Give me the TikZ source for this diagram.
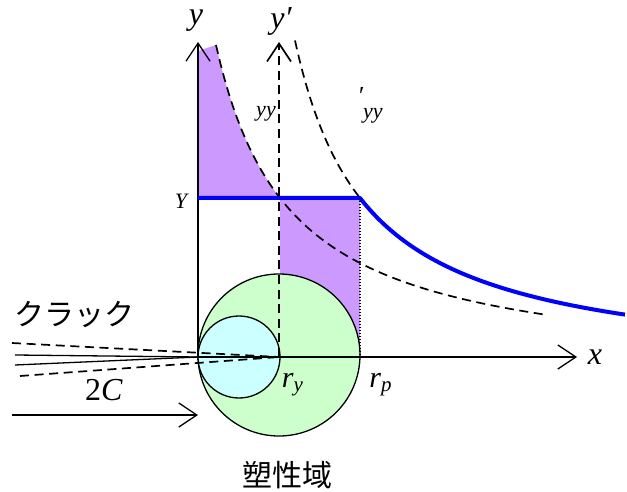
\documentclass[tikz,border=0pt]{standalone}
\usepackage{fontspec}
\setmainfont{Liberation Serif}
\newfontfamily\jpfont{Noto Sans CJK JP}
\usetikzlibrary{arrows.meta}

\begin{document}
\begin{tikzpicture}[x=0.5pt, y=-0.5pt, line width=0.65pt,
  axis/.style={-{Straight Barb[length=9pt, width=12pt]}},
  dsh/.style={line width=0.85pt, dash pattern=on 4.5pt off 2.8pt},
  lbl/.style={inner sep=0pt, font=\fontsize{16}{18}\selectfont\itshape},
  small/.style={inner sep=0pt, font=\fontsize{11}{13}\selectfont\itshape},
  jp/.style={inner sep=0pt, font=\fontsize{15}{17}\selectfont\jpfont},
  stress/.style={draw=blue, line width=2pt, line join=round}]
  \useasboundingbox (0,0) rectangle (627,492);
  \coordinate (O)     at (198,357);
  \coordinate (Oy)    at (279,357);
  \coordinate (rp)    at (360,357);
  \coordinate (ytop)  at (198,42);
  \coordinate (yptop) at (279,42);
  \coordinate (xend)  at (577,357);
  \coordinate (YL)    at (198,198);
  \coordinate (YR)    at (360,198);
  \coordinate (Ycut)  at (280,198);

  \fill[fill={rgb,255:red,204;green,153;blue,255}]
    (198,51) -- plot[domain=216:280, samples=30] (\x,{375.4-245.15/((\x-141.8)/100)})
    -- (YL) -- cycle;
  \fill[fill={rgb,255:red,204;green,153;blue,255}] (Ycut) rectangle (rp);

  \draw[fill={rgb,255:red,204;green,255;blue,204}] (279,355) circle (81);
  \draw[fill={rgb,255:red,204;green,255;blue,255}] (239,357) circle (41);

  \draw[axis] (O) -- (ytop);
  \draw[axis] (O) -- (xend);
  \draw[axis, dsh] (Oy) -- (yptop);
  \draw[dsh] plot[domain=216:548, samples=80] (\x,{375.4-245.15/((\x-141.8)/100)});
  \draw[dsh] plot[domain=295:360, samples=40] (\x,{375.4-245.15/((\x-221.8)/100)});
  \draw[stress] (YL) -- (YR)
    -- plot[domain=360:625, samples=80] (\x,{375.4-245.15/((\x-221.8)/100)});
  \draw[line width=0.6pt, dash pattern=on 0.6pt off 0.9pt] (YR) -- (rp);

  \coordinate (c1) at (15,355);
  \coordinate (c2) at (15,365);
  \coordinate (d1) at (12,343);
  \coordinate (d2) at (20,376);
  \foreach \c in {c1, c2}
    \draw (\c) -- (O);
  \foreach \d in {d1, d2}
    \draw[dsh] (\d) -- (Oy);
  \coordinate (a1) at (12,415);
  \coordinate (a2) at (198,415);
  \draw[axis] (a1) -- (a2);

  \node[lbl] (ylab)  at (196,21)  {y};
  \node[lbl] (yplab) at (281,21)  {y′};
  \node[lbl] (xlab)  at (595,357) {x};
  \node[small] (Ylab) at (181,201) {Y};
  \node[small] (syy)  at (266,114) {yy};
  \node[small] (syyp) at (370,105) {\raisebox{1ex}{\fontsize{13}{13}\selectfont ′}\raisebox{-0.4ex}{yy}};
  \node[lbl, font=\fontsize{15}{17}\selectfont] (ry) at (293,385) {\textit{r}\textsubscript{\textit{y}}};
  \node[lbl, font=\fontsize{15}{17}\selectfont] (rpl) at (381,385) {\textit{r}\textsubscript{\textit{p}}};
  \node[lbl, font=\fontsize{16}{18}\selectfont] (twoc) at (104,390) {2\textit{C}};
  \node[jp] (crack) at (74,315) {クラック};
  \node[jp] (plastic) at (287,475) {塑性域};
\end{tikzpicture}
\end{document}
